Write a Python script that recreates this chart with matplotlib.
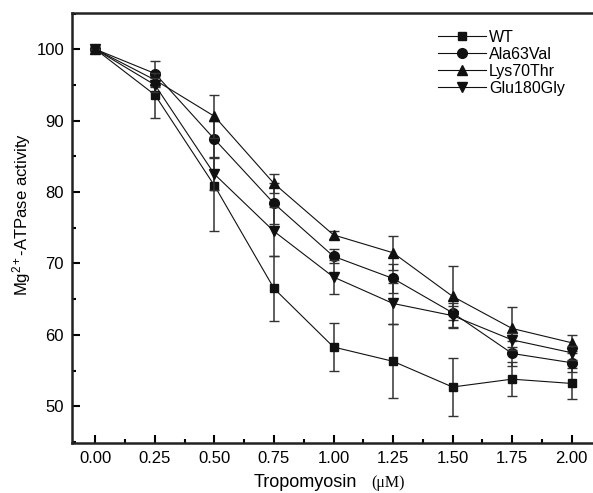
import matplotlib
matplotlib.use('Agg')
import matplotlib.pyplot as plt
from matplotlib.ticker import MultipleLocator
import numpy as np

# Tropomyosin concentration (uM)
conc = [0.00, 0.25, 0.50, 0.75, 1.00, 1.25, 1.50, 1.75, 2.00]

# Mg2+-ATPase activity (%) and error bars
wt = [100, 93.6, 80.9, 66.5, 58.3, 56.3, 52.7, 53.8, 53.2]
wt_err = [0, 3.2, 6.4, 4.6, 3.4, 5.2, 4.1, 2.4, 2.2]

ala63val = [100, 96.6, 87.4, 78.4, 71.0, 67.9, 63.1, 57.4, 56.1]
ala63val_err = [0, 1.7, 2.5, 2.9, 1.0, 2.0, 1.0, 1.7, 1.3]

lys70thr = [100, 95.7, 90.6, 81.2, 74.0, 71.5, 65.4, 60.9, 58.9]
lys70thr_err = [0, 1.0, 3.0, 1.3, 0.6, 2.4, 4.3, 3.0, 1.1]

glu180gly = [100, 95.0, 82.5, 74.5, 68.1, 64.4, 62.7, 59.3, 57.5]
glu180gly_err = [0, 1.0, 2.2, 3.4, 2.4, 2.9, 1.8, 1.0, 1.0]

series = [
    ('WT', wt, wt_err, 's', 6),
    ('Ala63Val', ala63val, ala63val_err, 'o', 7),
    ('Lys70Thr', lys70thr, lys70thr_err, '^', 7.5),
    ('Glu180Gly', glu180gly, glu180gly_err, 'v', 7.5),
]

plt.rcParams['font.family'] = ['Liberation Sans', 'DejaVu Sans']
plt.rcParams['mathtext.fontset'] = 'custom'
plt.rcParams['mathtext.rm'] = 'Liberation Sans'
plt.rcParams['mathtext.it'] = 'Liberation Sans:italic'
plt.rcParams['mathtext.bf'] = 'Liberation Sans:bold'

fig = plt.figure(figsize=(5.93, 4.93), dpi=100)
ax = fig.add_axes([0.122, 0.102, 0.882, 0.872])

for label, vals, errs, marker, ms in series:
    # error bars first, then the line with markers on top
    ax.errorbar(conc, vals, yerr=errs, fmt='none', ecolor='#333333',
                elinewidth=1.1, capsize=3.5, capthick=1.0)
    ax.plot(conc, vals, '-', marker=marker, color='#111111', linewidth=0.8,
            markersize=ms, label=label)

ax.set_xlim(-0.097, 2.1)
ax.set_ylim(44.9, 105.1)

ax.xaxis.set_minor_locator(MultipleLocator(0.125))
ax.yaxis.set_major_locator(MultipleLocator(10))
ax.yaxis.set_minor_locator(MultipleLocator(5))
ax.set_xticks(conc)
ax.set_xticklabels([f'{c:.2f}' for c in conc])

ax.tick_params(which='major', direction='in', length=6, width=1.5, labelsize=12, pad=6)
ax.tick_params(which='minor', direction='in', length=3, width=1.5)
for s in ax.spines.values():
    s.set_linewidth(1.8)
    s.set_color('#222222')

ax.set_ylabel(r'Mg$^{\mathrm{2+}}$-ATPase activity', fontsize=12)
ax.yaxis.set_label_coords(-0.075, 0.53)

# x label: sans text plus a smaller serif unit
fig.text(0.427, 0.012, 'Tropomyosin', fontsize=13, ha='left', va='baseline')
fig.text(0.626, 0.012, '(\u03bcM)', fontsize=11.5, ha='left', va='baseline',
         family=['Liberation Serif', 'DejaVu Serif'])

ax.legend(loc='upper left', bbox_to_anchor=(0.7, 0.96), frameon=False,
          fontsize=11.5, handlelength=3.0, handletextpad=0.15,
          labelspacing=0.12, borderpad=0, borderaxespad=0)

fig.savefig('out.png', dpi=100)
